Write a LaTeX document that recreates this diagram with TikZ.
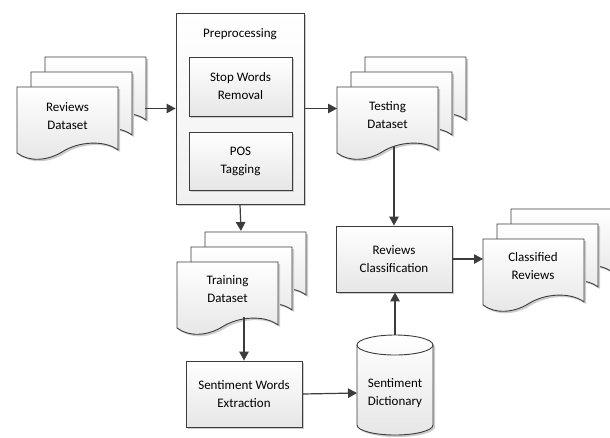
\documentclass[tikz,border=0pt]{standalone}
\usepackage{fontspec}
\setmainfont{Carlito}
\usetikzlibrary{arrows.meta,calc,shadows}
\definecolor{linec}{RGB}{60,60,60}
\definecolor{shadec}{RGB}{230,230,230}
\tikzset{
  lbl/.style={font=\fontsize{13}{18}\selectfont, align=center, text=black, inner sep=0pt},
  shp/.style={draw=linec, line width=0.9pt, top color=white, bottom color=shadec},
  shd/.style={fill=black!20},
  procbox/.style={shp, lbl, rectangle, drop shadow={shadow xshift=2pt, shadow yshift=-2pt, fill=black!20, opacity=1}},
  conn/.style={draw=linec, line width=1.2pt, -{Triangle[length=9pt,width=9.5pt]}},
}
\newcommand{\docpage}[2]{%
  \begin{scope}[shift={(#1,#2)}]
    \fill[shd] (2,2) -- (103,2) -- (103,65) .. controls (90,55) and (64,56) .. (47,67) .. controls (32,76) and (14,77) .. (2,68) -- cycle;
    \path[shp] (0,0) -- (101,0) -- (101,63) .. controls (88,53) and (62,54) .. (45,65) .. controls (30,74) and (12,75) .. (0,66) -- cycle;
  \end{scope}}
\newcommand{\docstack}[2]{%
  \docpage{#1+28}{#2-30}\docpage{#1+14}{#2-15}\docpage{#1}{#2}}
\begin{document}
\begin{tikzpicture}[x=1pt,y=-1pt]
\useasboundingbox (0,0) rectangle (610,437);

% Reviews Dataset
\docstack{17}{87}
\node[lbl] (rev) at (67.5,116) {Reviews\\Dataset};
\coordinate (revR) at (145,108.5);

% Preprocessing
\node[procbox, minimum width=128pt, minimum height=191pt, top color=white, bottom color=black!6] (pre) at (240,108.5) {};
\node[lbl] (prelbl) at (240,34) {Preprocessing};
\node[procbox, minimum width=103pt, minimum height=59pt] (stop) at (240.5,86.5) {Stop Words\\Removal};
\node[procbox, minimum width=103pt, minimum height=58pt] (pos) at (240.5,161) {POS\\Tagging};

% Testing Dataset
\docstack{337}{87}
\node[lbl] (test) at (387.5,115) {Testing\\Dataset};
\coordinate (testL) at (337,108.5);
\coordinate (testB) at (394,146);

% Training Dataset
\docstack{177}{262}
\node[lbl] (train) at (227.5,289) {Training\\Dataset};
\coordinate (trainT) at (241,231);
\coordinate (trainB) at (244,317);

% Reviews Classification
\node[procbox, minimum width=116pt, minimum height=66pt] (cls) at (394,259) {Reviews\\Classification};

% Classified Reviews
\docstack{483}{239}
\node[lbl] (crev) at (533,266) {Classified\\Reviews};
\coordinate (crL) at (483,259);

% Sentiment Words Extraction
\node[procbox, minimum width=116pt, minimum height=66pt] (swe) at (244,394) {Sentiment Words\\Extraction};

% Sentiment Dictionary (cylinder)
\fill[shd] (359,347) -- (359,427) arc[start angle=180, end angle=360, x radius=38pt, y radius=10pt] -- (435,347) arc[start angle=0, end angle=180, x radius=38pt, y radius=10pt] -- cycle;
\path[shp] (357,345) -- (357,425) arc[start angle=180, end angle=360, x radius=38pt, y radius=10pt] -- (433,345) arc[start angle=0, end angle=180, x radius=38pt, y radius=10pt] -- cycle;
\draw[draw=linec, line width=0.9pt] (357,345) arc[start angle=180, end angle=360, x radius=38pt, y radius=10pt];
\node[lbl] (dict) at (395,393.5) {Sentiment\\Dictionary};
\coordinate (dictT) at (395,335);
\coordinate (dictW) at (357,393);

% Connectors
\draw[conn] (revR) -- (pre.west);
\draw[conn] (pre.east) -- (testL);
\draw[conn] (pre.south) -- (trainT);
\draw[conn] (testB) -- (testB |- cls.north);
\draw[conn] (trainB) -- (trainB |- swe.north);
\draw[conn] (swe.east) -- (dictW);
\draw[conn] (dictT) -- (dictT |- cls.south);
\draw[conn] (cls.east) -- (crL);
\end{tikzpicture}
\end{document}
